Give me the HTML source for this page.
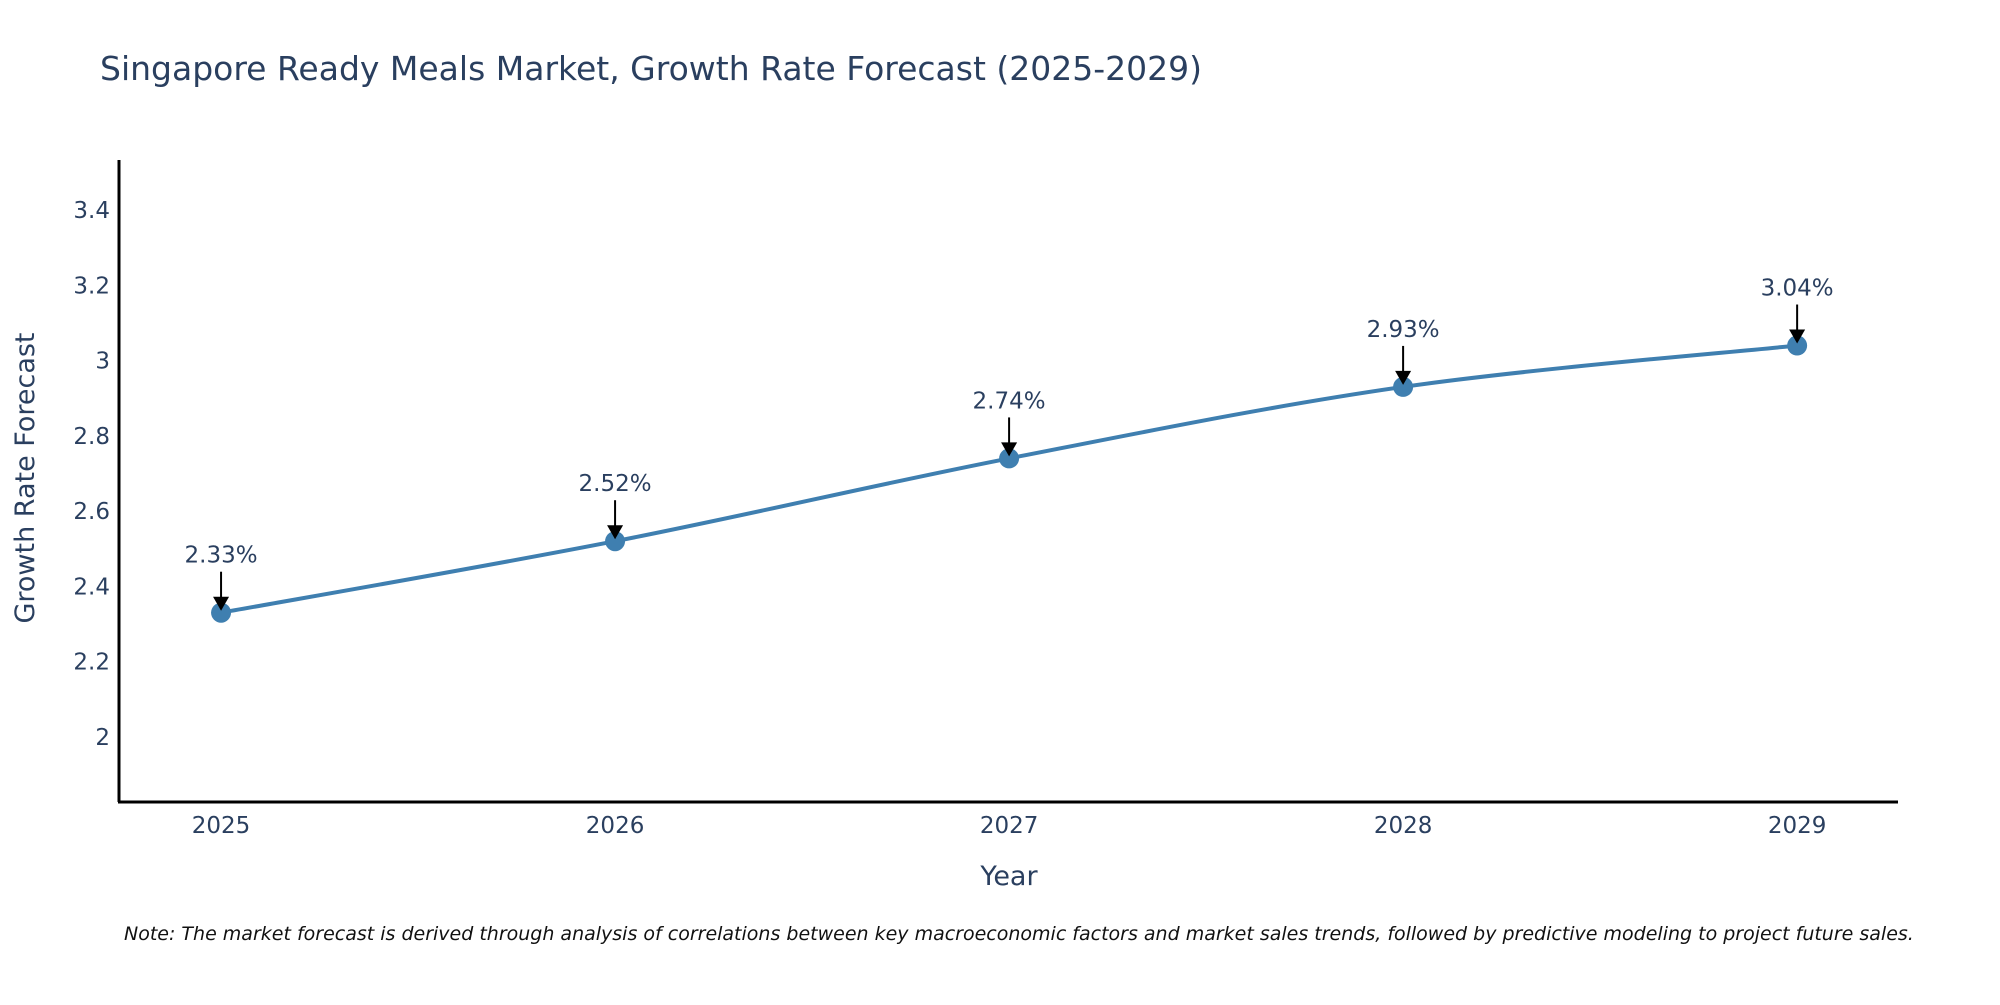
<!DOCTYPE html>
<html><head><meta charset="utf-8"><style>
body{margin:0;background:#fff;}
svg text{font-family:"DejaVu Sans","Liberation Sans",sans-serif;fill:#2a3f5f;}
</style></head><body>
<svg id="chart" width="2000" height="1000" xmlns="http://www.w3.org/2000/svg">
<text x="100" y="80" font-size="33">Singapore Ready Meals Market, Growth Rate Forecast (2025-2029)</text>
<g id="yticks"></g>
<g id="xticks"></g>
<line x1="119" y1="160" x2="119" y2="802" stroke="#000" stroke-width="3"/>
<line x1="118" y1="802" x2="1898" y2="802" stroke="#000" stroke-width="3"/>
<text transform="translate(34,478) rotate(-90)" text-anchor="middle" font-size="27">Growth Rate Forecast</text>
<text x="1009" y="885" text-anchor="middle" font-size="27">Year</text>
<text x="124" y="940" font-size="19" font-style="italic" style="fill:#111">Note: The market forecast is derived through analysis of correlations between key macroeconomic factors and market sales trends, followed by predictive modeling to project future sales.</text>
<g id="plot"></g>
</svg>
<script>
const years = [2025, 2026, 2027, 2028, 2029];
const growth = [2.33, 2.52, 2.74, 2.93, 3.04];
const yTickValues = [2, 2.2, 2.4, 2.6, 2.8, 3, 3.2, 3.4];
const yTickLabels = ["2", "2.2", "2.4", "2.6", "2.8", "3", "3.2", "3.4"];

const NS = "http://www.w3.org/2000/svg";
const X0 = 119, X1 = 1898, Y0 = 802, Y1 = 160;
const xMin = 2024.741, xMax = 2029.256, yMin = 1.827, yMax = 3.533;
function xs(v){ return X0 + (v - xMin) / (xMax - xMin) * (X1 - X0); }
function ys(v){ return Y0 - (v - yMin) / (yMax - yMin) * (Y0 - Y1); }
function mk(tag, attrs, parent){ const e = document.createElementNS(NS, tag); for (const k in attrs) e.setAttribute(k, attrs[k]); parent.appendChild(e); return e; }

const yt = document.getElementById('yticks');
yTickValues.forEach((v, i) => {
  const t = mk('text', {x: 110, y: ys(v) + 8, 'text-anchor': 'end', 'font-size': 23}, yt);
  
  
  t.textContent = yTickLabels[i];
});
const xt = document.getElementById('xticks');
years.forEach(y => {
  const t = mk('text', {x: xs(y), y: 833, 'text-anchor': 'middle', 'font-size': 23}, xt);
  
  
  t.textContent = String(y);
});

const plot = document.getElementById('plot');
const pts = years.map((y, i) => [xs(y), ys(growth[i])]);
let d = `M${pts[0][0]},${pts[0][1]}`;
for (let i = 0; i < pts.length - 1; i++) {
  const p0 = pts[Math.max(0, i - 1)], p1 = pts[i], p2 = pts[i + 1], p3 = pts[Math.min(pts.length - 1, i + 2)];
  const s = 1 / 6;
  d += ` C${p1[0] + (p2[0] - p0[0]) * s},${p1[1] + (p2[1] - p0[1]) * s} ${p2[0] - (p3[0] - p1[0]) * s},${p2[1] - (p3[1] - p1[1]) * s} ${p2[0]},${p2[1]}`;
}
const line = mk('path', {d: d, fill: 'none', stroke: '#3f7fb0', 'stroke-width': 4}, plot);



pts.forEach((p, i) => {
  const c = mk('circle', {cx: p[0], cy: p[1], r: 10, fill: '#3f7fb0'}, plot);
  
  
  const a = mk('line', {x1: p[0], y1: p[1] - 41, x2: p[0], y2: p[1] - 14, stroke: '#000', 'stroke-width': 2}, plot);
  
  
  const h = mk('polygon', {points: `${p[0]-8},${p[1]-16} ${p[0]+8},${p[1]-16} ${p[0]},${p[1]-2}`, fill: '#000'}, plot);
  
  
  const t = mk('text', {x: p[0], y: p[1] - 50, 'text-anchor': 'middle', 'font-size': 23}, plot);
  
  
  t.textContent = growth[i].toFixed(2) + '%';
});
</script>
</body></html>
